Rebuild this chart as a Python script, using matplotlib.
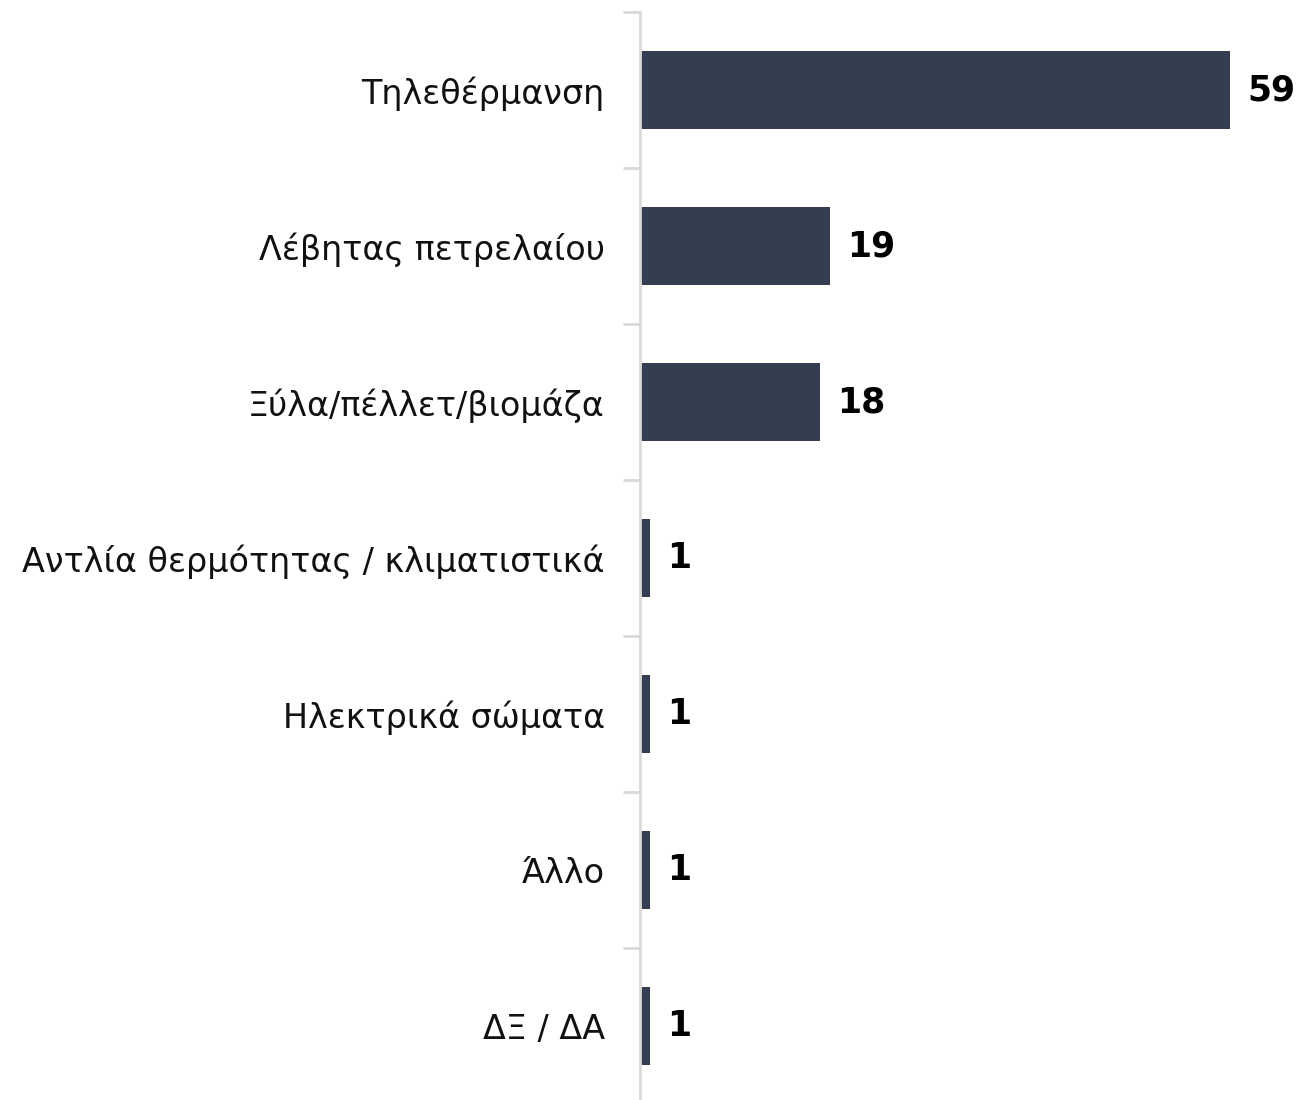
import matplotlib
matplotlib.use("Agg")
import matplotlib.pyplot as plt
import numpy as np

categories = [
    "Τηλεθέρμανση",
    "Λέβητας πετρελαίου",
    "Ξύλα/πέλλετ/βιομάζα",
    "Αντλία θερμότητας / κλιματιστικά",
    "Ηλεκτρικά σώματα",
    "Άλλο",
    "ΔΞ / ΔΑ",
]
values = [59, 19, 18, 1, 1, 1, 1]

plt.rcParams["font.family"] = ["DejaVu Sans"]

W, H = 1302, 1100
fig = plt.figure(figsize=(W / 100, H / 100), dpi=100)
ax = fig.add_axes([639.5 / W, -4 / H, 660 / W, 1092 / H])

y = np.arange(len(categories))
bars = ax.barh(y, values, height=0.5, color="#343e50")

ax.set_xlim(0, 66)
ax.set_ylim(len(categories) - 0.5, -0.5)

# category labels placed between boundary ticks
ax.set_yticks(y)
ax.set_yticklabels(categories, fontsize=24, color="#111111")
ax.tick_params(axis="y", which="major", length=0, pad=25)
ax.set_yticks(np.arange(-0.5, len(categories), 1), minor=True)
ax.tick_params(axis="y", which="minor", length=12, width=2, color="#d9d9d9")

ax.set_xticks([])
for side in ["top", "right", "bottom"]:
    ax.spines[side].set_visible(False)
ax.spines["left"].set_color("#d9d9d9")
ax.spines["left"].set_linewidth(2)

for rect, v in zip(bars, values):
    ax.annotate(f"{v}", xy=(rect.get_width(), rect.get_y() + rect.get_height() / 2),
                xytext=(13, 0), textcoords="offset points",
                ha="left", va="center", fontsize=25, fontweight="bold", color="black")

fig.savefig("out.png", dpi=100)
